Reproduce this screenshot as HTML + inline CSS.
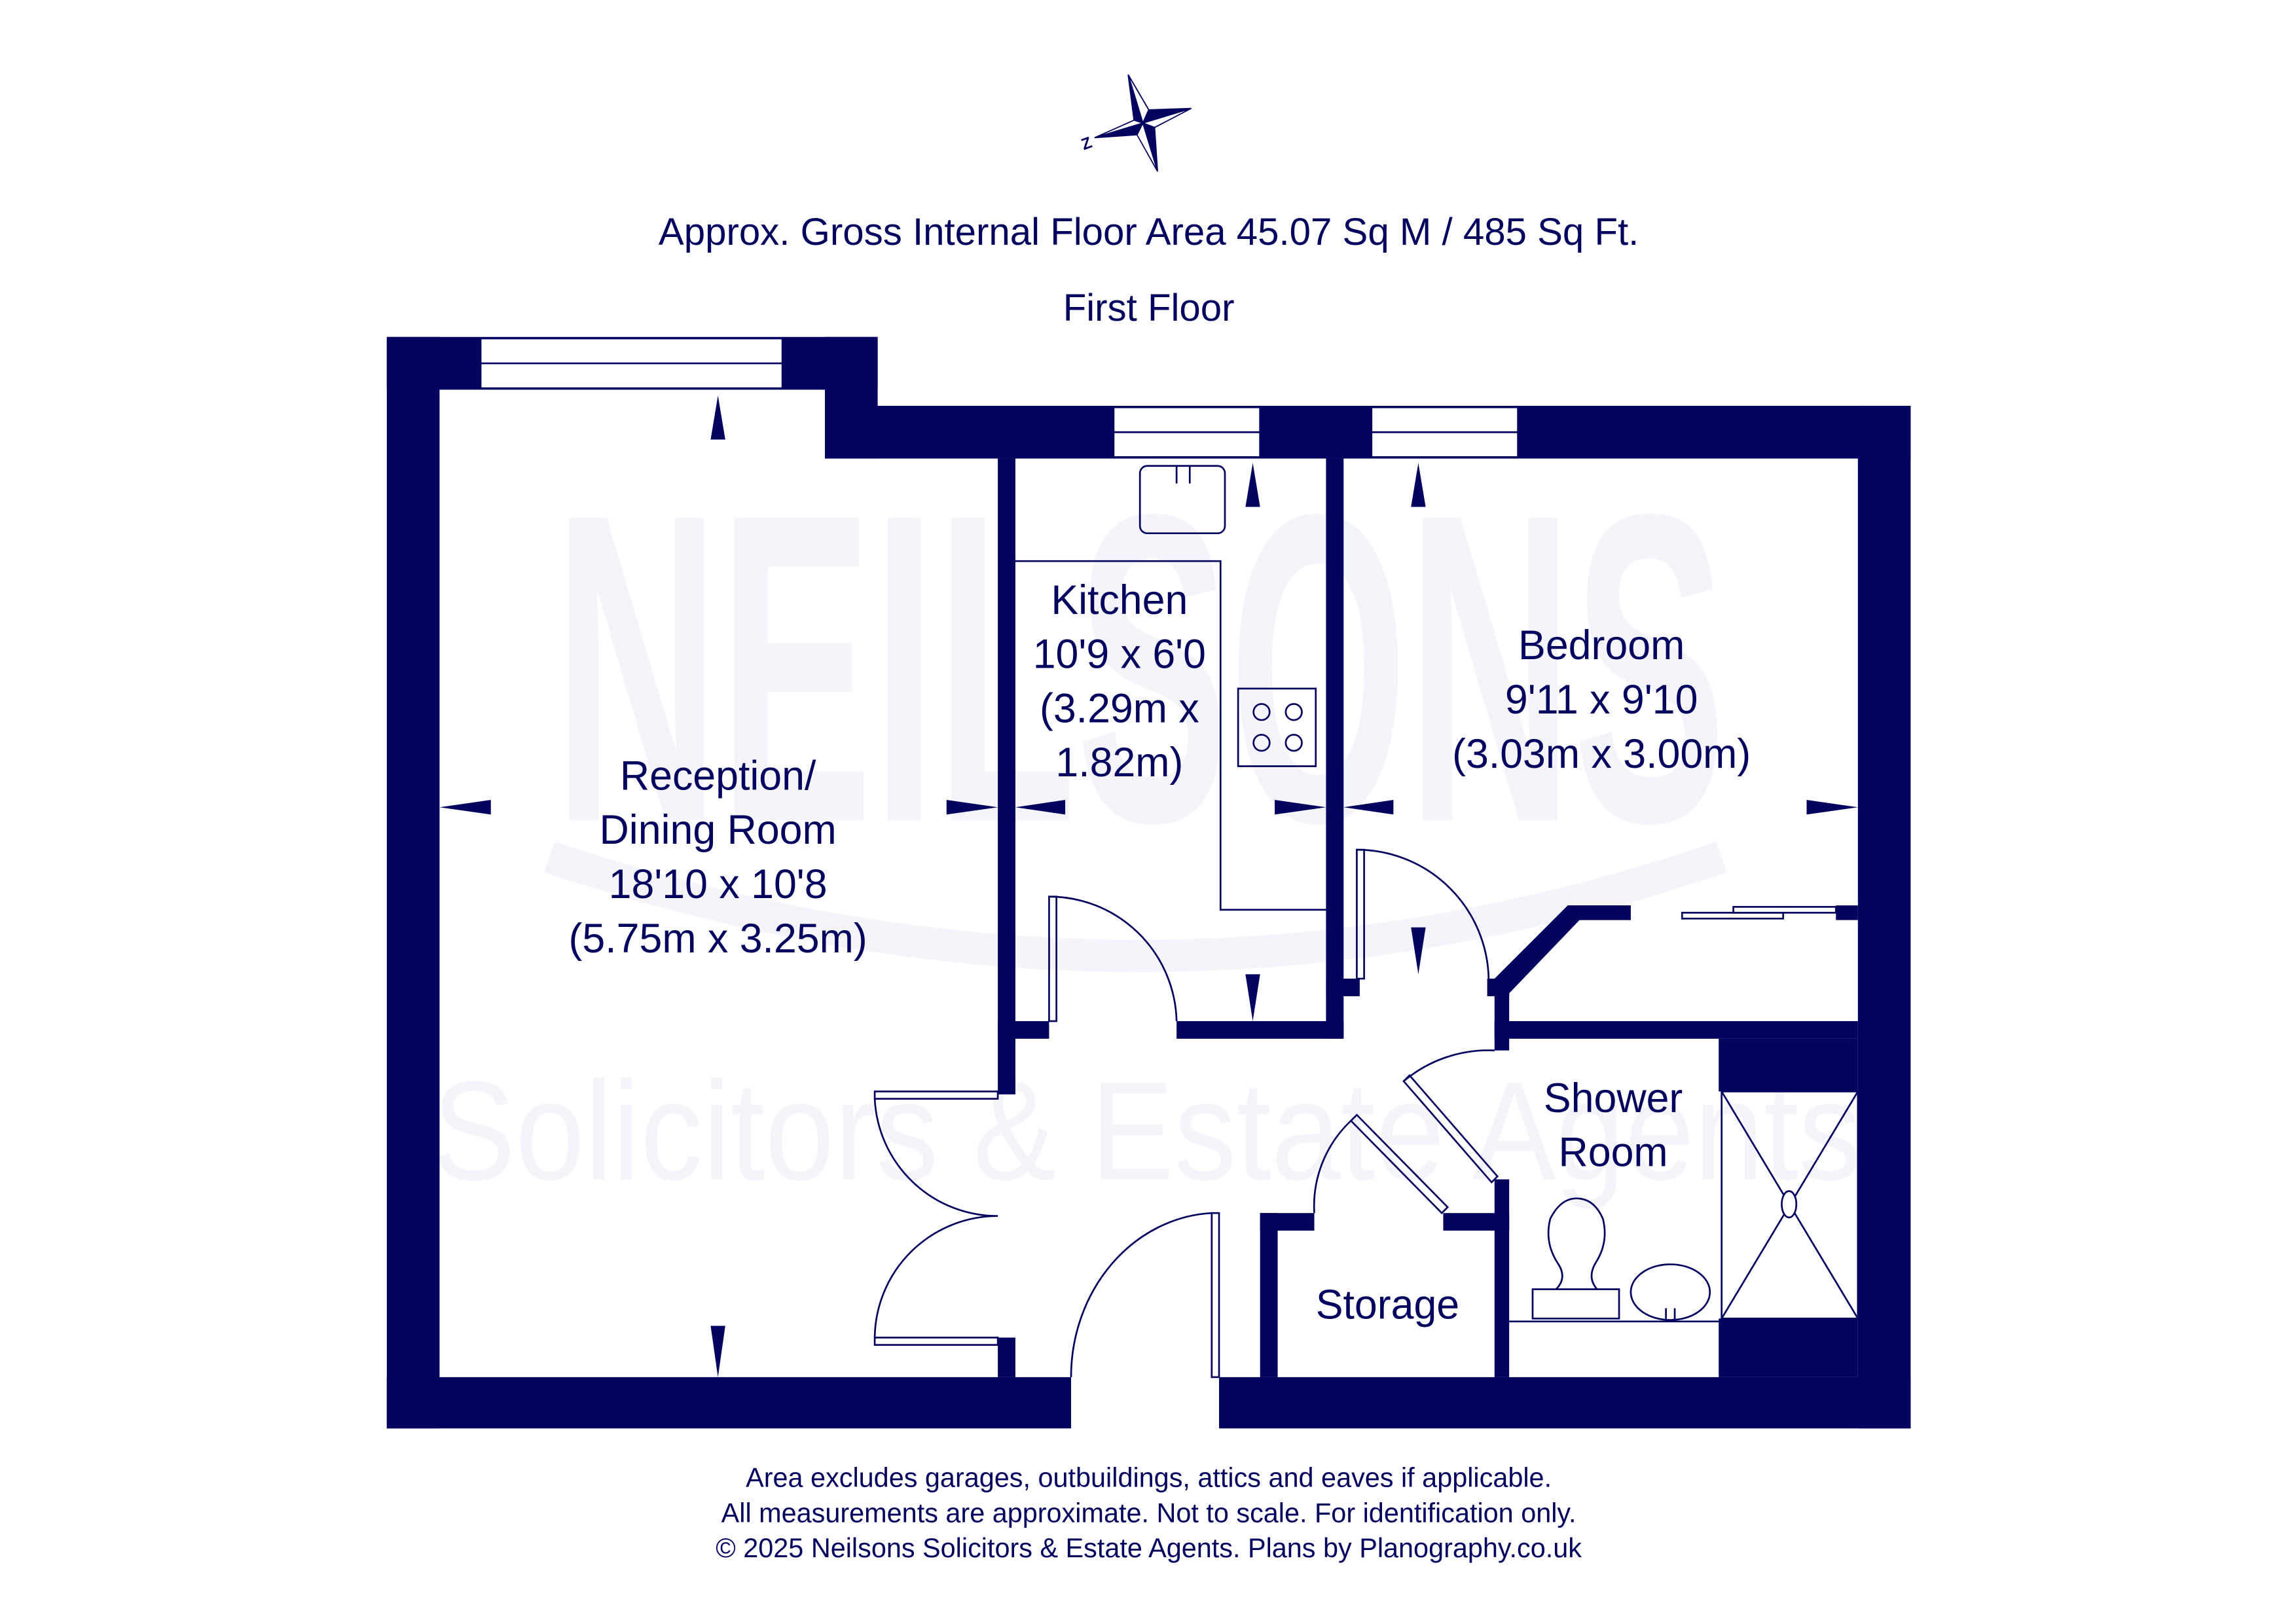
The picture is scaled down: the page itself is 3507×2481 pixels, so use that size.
<!DOCTYPE html>
<html><head><meta charset="utf-8"><style>
html,body{margin:0;padding:0;background:#fff;}
svg{display:block;}
text{font-family:"Liberation Sans",sans-serif;fill:#03035f;}
</style></head><body>
<svg width="3507" height="2481" viewBox="0 0 1567 1108.5" preserveAspectRatio="none" xmlns="http://www.w3.org/2000/svg">
<rect width="1567" height="1109" fill="#fff"/>
<!-- watermark -->
<g fill="#f3f3f9">
<text x="378" y="560" font-size="300" font-weight="bold" textLength="800" lengthAdjust="spacingAndGlyphs" style="fill:#f4f4fa">NEILSONS</text>
<text x="295" y="805" font-size="96" style="fill:#f4f4fa" textLength="975" lengthAdjust="spacingAndGlyphs">Solicitors &amp; Estate Agents</text>
</g>
<path d="M375 585 Q780 720 1175 585" fill="none" stroke="#f4f4fa" stroke-width="22"/>

<!-- compass -->
<g fill="#03035f" stroke="#03035f" stroke-width="0.8" stroke-linejoin="miter">
<polygon points="770,51 784,75 780,84 774,82" />
<polygon points="770,51 784,75 780,84" fill="#fff"/>
<polygon points="770,51 774,82 780,84"/>
<polygon points="813,74 784,75 780,84"/>
<polygon points="813,74 780,84 788,87" fill="#fff"/>
<polygon points="790,117 788,87 780,84" />
<polygon points="790,117 780,84 776,92" fill="#fff"/>
<polygon points="747,94 776,92 780,84"/>
<polygon points="747,94 780,84 774,82" fill="#fff"/>
</g>
<text x="738" y="101" font-size="11" font-weight="bold" transform="rotate(-20 743 97)">Z</text>

<text x="784" y="167" font-size="26" text-anchor="middle">Approx. Gross Internal Floor Area 45.07 Sq M / 485 Sq Ft.</text>
<text x="784" y="219" font-size="26" text-anchor="middle">First Floor</text>

<!-- walls -->
<g fill="#03035f">
<rect x="264" y="230" width="36" height="745"/>
<rect x="264" y="230" width="335" height="36"/>
<rect x="563" y="230" width="36" height="83"/>
<rect x="563" y="277" width="741" height="36"/>
<rect x="1268" y="277" width="36" height="698"/>
<rect x="264" y="940" width="467" height="35"/>
<rect x="832" y="940" width="472" height="35"/>
<rect x="681" y="313" width="12" height="434"/>
<rect x="681" y="913" width="12" height="27"/>
<rect x="681" y="697" width="35" height="12"/>
<rect x="803" y="697" width="114" height="12"/>
<rect x="905" y="313" width="12" height="396"/>
<rect x="905" y="668" width="23" height="12"/>
<rect x="1020" y="668" width="10" height="49"/>
<rect x="1015" y="668" width="15" height="12"/>
<polygon points="1020,668 1070,618 1113,618 1113,628 1078,628 1030,678 1030,680 1020,680"/>
<rect x="1253" y="618" width="15" height="10"/>
<rect x="1020" y="697" width="248" height="12"/>
<rect x="1173" y="709" width="95" height="36"/>
<rect x="1173" y="900" width="95" height="40"/>
<rect x="1020" y="805" width="10" height="135"/>
<rect x="860" y="828" width="37" height="12"/>
<rect x="985" y="828" width="45" height="12"/>
<rect x="860" y="828" width="12" height="112"/>
</g>

<!-- windows -->
<g fill="#fff" stroke="#03035f" stroke-width="1.2">
<rect x="328" y="231" width="206" height="34"/>
<line x1="328" y1="248" x2="534" y2="248"/>
<rect x="760" y="278" width="100" height="34"/>
<line x1="760" y1="295" x2="860" y2="295"/>
<rect x="936" y="278" width="100" height="34"/>
<line x1="936" y1="295" x2="1036" y2="295"/>
</g>

<!-- fixtures -->
<g fill="none" stroke="#03035f" stroke-width="1.2">
<polyline points="693,383 833,383 833,621 905,621"/>
<rect x="778" y="318" width="58" height="46" rx="5"/>
<line x1="803" y1="318" x2="803" y2="330"/><line x1="812" y1="318" x2="812" y2="330"/>
<rect x="845" y="470" width="53" height="53"/>
<circle cx="861" cy="486" r="5.5"/><circle cx="883" cy="486" r="5.5"/>
<circle cx="861" cy="507" r="5.5"/><circle cx="883" cy="507" r="5.5"/>
<!-- doors -->
<rect x="716" y="612" width="5" height="85"/>
<path d="M716 612 A87 87 0 0 1 803 697"/>
<rect x="926" y="580" width="5" height="88"/>
<path d="M926 580 A90 90 0 0 1 1016 668"/>
<rect x="597" y="745" width="84" height="5"/>
<path d="M597 750 A84 84 0 0 0 681 830"/>
<rect x="597" y="913" width="84" height="5"/>
<path d="M597 913 A84 84 0 0 1 681 830"/>
<rect x="827" y="828" width="5" height="112"/>
<path d="M827 828 A101 112 0 0 0 731 940"/>
<polygon points="958,738 962,734 1022,803 1018,807"/>
<path d="M958 738 A90 90 0 0 1 1020 717"/>
<polygon points="922,765 926,761 988,824 984,828"/>
<path d="M922 765 A80 80 0 0 0 897 828"/>
<!-- wardrobe -->
<rect x="1148" y="623" width="69" height="4"/>
<rect x="1183" y="619" width="70" height="4"/>
<!-- shower -->
<rect x="1175" y="745" width="93" height="155"/>
<line x1="1175" y1="745" x2="1268" y2="900"/>
<line x1="1268" y1="745" x2="1175" y2="900"/>
<ellipse cx="1221" cy="822" rx="5" ry="9" fill="#fff"/>
<line x1="1030" y1="902" x2="1173" y2="902"/>
<rect x="1046" y="880" width="59" height="20"/>
<path d="M1062 880 Q1070 872 1063 862 Q1054 848 1058 832 Q1065 818 1076 818 Q1088 818 1094 832 Q1098 848 1089 862 Q1083 872 1090 880"/>
<ellipse cx="1140" cy="882" rx="27" ry="19"/>
<line x1="1137" y1="893" x2="1137" y2="901"/><line x1="1143" y1="893" x2="1143" y2="901"/>
</g>

<!-- dimension arrows -->
<g fill="#03035f">
<polygon points="490,270 485,300 495,300"/>
<polygon points="490,940 485,905 495,905"/>
<polygon points="300,551 335,546 335,556"/>
<polygon points="681,551 646,546 646,556"/>
<polygon points="693,551 727,546 727,556"/>
<polygon points="905,551 870,546 870,556"/>
<polygon points="855,316 850,346 860,346"/>
<polygon points="855,697 850,665 860,665"/>
<polygon points="917,551 951,546 951,556"/>
<polygon points="1268,551 1233,546 1233,556"/>
<polygon points="968,316 963,346 973,346"/>
<polygon points="968,665 963,633 973,633"/>
</g>

<!-- labels -->
<g font-size="28" text-anchor="middle">
<text x="490" y="539">Reception/</text>
<text x="490" y="576">Dining Room</text>
<text x="490" y="613">18'10 x 10'8</text>
<text x="490" y="650">(5.75m x 3.25m)</text>
<text x="764" y="419">Kitchen</text>
<text x="764" y="456">10'9 x 6'0</text>
<text x="764" y="493">(3.29m x</text>
<text x="764" y="530">1.82m)</text>
<text x="1093" y="450">Bedroom</text>
<text x="1093" y="487">9'11 x 9'10</text>
<text x="1093" y="524">(3.03m x 3.00m)</text>
<text x="1101" y="759">Shower</text>
<text x="1101" y="796">Room</text>
<text x="947" y="900">Storage</text>
</g>

<g font-size="18.5" text-anchor="middle">
<text x="784" y="1015">Area excludes garages, outbuildings, attics and eaves if applicable.</text>
<text x="784" y="1039">All measurements are approximate. Not to scale. For identification only.</text>
<text x="784" y="1063">© 2025 Neilsons Solicitors &amp; Estate Agents. Plans by Planography.co.uk</text>
</g>
</svg>
</body></html>
